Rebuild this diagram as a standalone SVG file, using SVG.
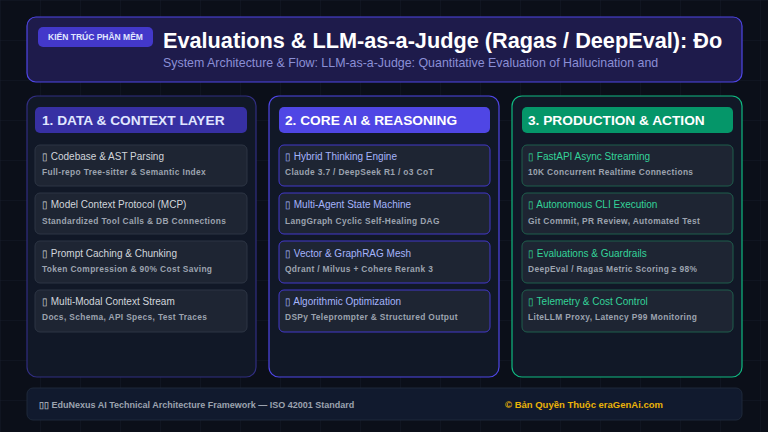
<svg xmlns="http://www.w3.org/2000/svg" width="768" height="432" viewBox="0 0 768 432">
<defs>
<pattern id="grid" width="40" height="40" patternUnits="userSpaceOnUse">
<path d="M40 0H0V40" fill="none" stroke="#161c2a" stroke-width="1"/>
</pattern>
</defs>
<style>
.f{font-family:"Liberation Sans",Arial,sans-serif}
.col{fill:#111827;stroke-width:1.2}
.card{fill:#1e2533;stroke-width:1}
.ct{font-size:10px}
.cs{font-size:8.4px;font-weight:bold;fill:#9ca3af;letter-spacing:0.35px}
.hd{font-size:13.7px;font-weight:bold}
</style>
<rect width="768" height="432" fill="#0b0f19"/>
<rect width="768" height="432" fill="url(#grid)"/>

<g id="header">
<rect x="27" y="17" width="715" height="65" rx="9" fill="#1e1b4b" stroke="#4f46e5" stroke-width="1.2"/>
<rect x="38" y="27" width="115" height="20" rx="5" fill="#4338ca"/>
<text class="f" x="95.5" y="40" text-anchor="middle" font-size="8.5" font-weight="bold" fill="#e0e7ff">KIẾN TRÚC PHẦN MỀM</text>
<text class="f" x="163" y="48" font-size="21.7" font-weight="bold" fill="#ffffff">Evaluations &amp; LLM-as-a-Judge (Ragas / DeepEval): Đo</text>
<text class="f" x="163" y="67" font-size="12.4" fill="#8b8fd6">System Architecture &amp; Flow: LLM-as-a-Judge: Quantitative Evaluation of Hallucination and</text>
</g>

<g id="col1">
<rect class="col" x="27" y="96" width="229" height="281" rx="10" stroke="#312e81"/>
<rect x="35" y="107" width="212" height="26" rx="5" fill="#3730a3"/>
<text class="f hd" x="42" y="125" fill="#e0e7ff">1. DATA &amp; CONTEXT LAYER</text>
</g>
<g id="c1n1"><rect class="card" x="35" y="145" width="212" height="41" rx="5" stroke="#2d3544"/>
<text class="f ct" x="42" y="160" fill="#d1d5db">▯ Codebase &amp; AST Parsing</text>
<text class="f cs" x="42" y="175">Full-repo Tree-sitter &amp; Semantic Index</text></g>
<g id="c1n2"><rect class="card" x="35" y="193" width="212" height="41" rx="5" stroke="#2d3544"/>
<text class="f ct" x="42" y="208" fill="#d1d5db">▯ Model Context Protocol (MCP)</text>
<text class="f cs" x="42" y="224">Standardized Tool Calls &amp; DB Connections</text></g>
<g id="c1n3"><rect class="card" x="35" y="241" width="212" height="42" rx="5" stroke="#2d3544"/>
<text class="f ct" x="42" y="257" fill="#d1d5db">▯ Prompt Caching &amp; Chunking</text>
<text class="f cs" x="42" y="272">Token Compression &amp; 90% Cost Saving</text></g>
<g id="c1n4"><rect class="card" x="35" y="290" width="212" height="42" rx="5" stroke="#2d3544"/>
<text class="f ct" x="42" y="305" fill="#d1d5db">▯ Multi-Modal Context Stream</text>
<text class="f cs" x="42" y="320">Docs, Schema, API Specs, Test Traces</text></g>

<g id="col2">
<rect class="col" x="269" y="96" width="230" height="281" rx="10" stroke="#4f46e5"/>
<rect x="279" y="107" width="211" height="26" rx="5" fill="#4f46e5"/>
<text class="f hd" x="285" y="125" fill="#ffffff">2. CORE AI &amp; REASONING</text>
</g>
<g id="c2n1"><rect class="card" x="279" y="145" width="211" height="41" rx="5" stroke="#4338ca"/>
<text class="f ct" x="285" y="160" fill="#a5b4fc">▯ Hybrid Thinking Engine</text>
<text class="f cs" x="285" y="175">Claude 3.7 / DeepSeek R1 / o3 CoT</text></g>
<g id="c2n2"><rect class="card" x="279" y="193" width="211" height="41" rx="5" stroke="#4338ca"/>
<text class="f ct" x="285" y="208" fill="#a5b4fc">▯ Multi-Agent State Machine</text>
<text class="f cs" x="285" y="224">LangGraph Cyclic Self-Healing DAG</text></g>
<g id="c2n3"><rect class="card" x="279" y="241" width="211" height="42" rx="5" stroke="#4338ca"/>
<text class="f ct" x="285" y="257" fill="#a5b4fc">▯ Vector &amp; GraphRAG Mesh</text>
<text class="f cs" x="285" y="272">Qdrant / Milvus + Cohere Rerank 3</text></g>
<g id="c2n4"><rect class="card" x="279" y="290" width="211" height="42" rx="5" stroke="#4338ca"/>
<text class="f ct" x="285" y="305" fill="#a5b4fc">▯ Algorithmic Optimization</text>
<text class="f cs" x="285" y="320">DSPy Teleprompter &amp; Structured Output</text></g>

<g id="col3">
<rect class="col" x="512" y="96" width="230" height="281" rx="10" stroke="#10b981"/>
<rect x="522" y="107" width="211" height="26" rx="5" fill="#059669"/>
<text class="f hd" x="528" y="125" fill="#ffffff">3. PRODUCTION &amp; ACTION</text>
</g>
<g id="c3n1"><rect class="card" x="522" y="145" width="211" height="41" rx="5" stroke="#1f5e4c"/>
<text class="f ct" x="528" y="160" fill="#34d399">▯ FastAPI Async Streaming</text>
<text class="f cs" x="528" y="175">10K Concurrent Realtime Connections</text></g>
<g id="c3n2"><rect class="card" x="522" y="193" width="211" height="41" rx="5" stroke="#1f5e4c"/>
<text class="f ct" x="528" y="208" fill="#34d399">▯ Autonomous CLI Execution</text>
<text class="f cs" x="528" y="224">Git Commit, PR Review, Automated Test</text></g>
<g id="c3n3"><rect class="card" x="522" y="241" width="211" height="42" rx="5" stroke="#1f5e4c"/>
<text class="f ct" x="528" y="257" fill="#34d399">▯ Evaluations &amp; Guardrails</text>
<text class="f cs" x="528" y="272">DeepEval / Ragas Metric Scoring ≥ 98%</text></g>
<g id="c3n4"><rect class="card" x="522" y="290" width="211" height="42" rx="5" stroke="#1f5e4c"/>
<text class="f ct" x="528" y="305" fill="#34d399">▯ Telemetry &amp; Cost Control</text>
<text class="f cs" x="528" y="320">LiteLLM Proxy, Latency P99 Monitoring</text></g>

<g id="connectors"></g>

<g id="footer">
<rect x="27" y="388" width="715" height="32" rx="6" fill="#111a2e" stroke="#1e293b"/>
<text class="f" x="39" y="408" font-size="9" font-weight="bold" fill="#9ca3af">▯▯ EduNexus AI Technical Architecture Framework — ISO 42001 Standard</text>
<text class="f" x="505" y="408" font-size="9.5" font-weight="bold" fill="#eab308">© Bản Quyền Thuộc eraGenAi.com</text>
</g>
</svg>
